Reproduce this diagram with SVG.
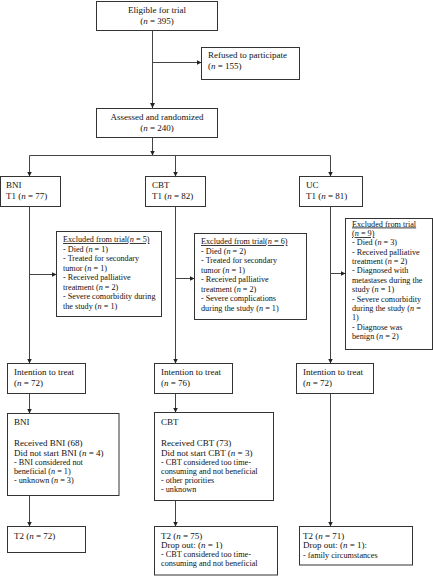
<svg xmlns="http://www.w3.org/2000/svg" width="433" height="576" viewBox="0 0 433 576">
<style>
.box{fill:#fff;stroke:#333;stroke-width:1}
.t{font-family:"Liberation Serif","Times New Roman",serif;font-size:9px;fill:#111}
.s{font-size:8.2px}
.m{text-anchor:middle}
.i{font-style:italic}
.u{text-decoration:underline}
.c{stroke:#444;stroke-width:1;fill:none}
.a{marker-end:url(#ah)}
</style>
<defs>
<marker id="ah" markerUnits="userSpaceOnUse" markerWidth="5" markerHeight="5" refX="5" refY="2.5" orient="auto">
<path d="M0,0 L5,2.5 L0,5 z" fill="#222"/>
</marker>
</defs>
<rect width="433" height="576" fill="#fff"/>
<g id="connectors">
<line class="c a" x1="152.5" y1="30.5" x2="152.5" y2="108"/>
<line class="c a" x1="152.5" y1="62.5" x2="201.5" y2="62.5"/>
<line class="c a" x1="152.5" y1="137.5" x2="152.5" y2="155.5"/>
<line class="c" x1="29.5" y1="155.5" x2="330.5" y2="155.5"/>
<line class="c a" x1="29.5" y1="155.5" x2="29.5" y2="176.5"/>
<line class="c a" x1="175.5" y1="155.5" x2="175.5" y2="176.5"/>
<line class="c a" x1="330.5" y1="155.5" x2="330.5" y2="176.5"/>
<line class="c a" x1="29.5" y1="206.5" x2="29.5" y2="363.5"/>
<line class="c a" x1="29.5" y1="274.5" x2="56.5" y2="274.5"/>
<line class="c a" x1="175.5" y1="206.5" x2="175.5" y2="363.5"/>
<line class="c a" x1="175.5" y1="278.5" x2="194.5" y2="278.5"/>
<line class="c a" x1="330.5" y1="206.5" x2="330.5" y2="363.5"/>
<line class="c a" x1="330.5" y1="273.5" x2="345.5" y2="273.5"/>
<line class="c a" x1="29.5" y1="393.5" x2="29.5" y2="413.5"/>
<line class="c a" x1="175.5" y1="393.5" x2="175.5" y2="412.5"/>
<line class="c a" x1="29.5" y1="495.5" x2="29.5" y2="526.5"/>
<line class="c a" x1="175.5" y1="500.5" x2="175.5" y2="526.5"/>
<line class="c a" x1="330.5" y1="393.5" x2="330.5" y2="526.5"/>
</g>
<g id="eligible">
<rect class="box" x="96.5" y="1.5" width="121" height="29"/>
<text class="t m" x="157" y="12.5">Eligible for trial</text>
<text class="t m" x="157" y="24">(<tspan class="i">n</tspan> = 395)</text>
</g>
<g id="refused">
<rect class="box" x="201.5" y="47.5" width="98" height="32"/>
<text class="t" x="208" y="58">Refused to participate</text>
<text class="t" x="208" y="69">(<tspan class="i">n</tspan> = 155)</text>
</g>
<g id="assessed">
<rect class="box" x="96.5" y="108.5" width="121" height="29"/>
<text class="t m" x="157" y="120">Assessed and randomized</text>
<text class="t m" x="157" y="131">(<tspan class="i">n</tspan> = 240)</text>
</g>
<g id="bni-t1">
<rect class="box" x="0.5" y="176.5" width="60" height="30"/>
<text class="t" x="6" y="188">BNI</text>
<text class="t" x="6" y="199">T1 (<tspan class="i">n</tspan> = 77)</text>
</g>
<g id="cbt-t1">
<rect class="box" x="145.5" y="176.5" width="60" height="30"/>
<text class="t" x="152" y="188">CBT</text>
<text class="t" x="152" y="199">T1 (<tspan class="i">n</tspan> = 82)</text>
</g>
<g id="uc-t1">
<rect class="box" x="299.5" y="176.5" width="63" height="30"/>
<text class="t" x="306" y="188">UC</text>
<text class="t" x="306" y="199">T1 (<tspan class="i">n</tspan> = 81)</text>
</g>
<g id="bni-excluded">
<rect class="box" x="56.5" y="231.5" width="105" height="85"/>
<text class="t s u" x="63" y="242">Excluded from trial(<tspan class="i">n</tspan> = 5)</text>
<text class="t s" x="63" y="251.5">- Died (<tspan class="i">n</tspan> = 1)</text>
<text class="t s" x="63" y="261">- Treated for secondary</text>
<text class="t s" x="63" y="270.5">tumor (<tspan class="i">n</tspan> = 1)</text>
<text class="t s" x="63" y="280">- Received palliative</text>
<text class="t s" x="63" y="289.5">treatment (<tspan class="i">n</tspan> = 2)</text>
<text class="t s" x="63" y="299">- Severe comorbidity during</text>
<text class="t s" x="63" y="308.5">the study (<tspan class="i">n</tspan> = 1)</text>
</g>
<g id="cbt-excluded">
<rect class="box" x="194.5" y="233.5" width="112" height="86"/>
<text class="t s u" x="201" y="244">Excluded from trial(<tspan class="i">n</tspan> = 6)</text>
<text class="t s" x="201" y="253.5">- Died (<tspan class="i">n</tspan> = 2)</text>
<text class="t s" x="201" y="263">- Treated for secondary</text>
<text class="t s" x="201" y="272.5">tumor (<tspan class="i">n</tspan> = 1)</text>
<text class="t s" x="201" y="282">- Received palliative</text>
<text class="t s" x="201" y="291.5">treatment (<tspan class="i">n</tspan> = 2)</text>
<text class="t s" x="201" y="301">- Severe complications</text>
<text class="t s" x="201" y="310.5">during the study (<tspan class="i">n</tspan> = 1)</text>
</g>
<g id="uc-excluded">
<rect class="box" x="345.5" y="218.5" width="87" height="131"/>
<text class="t s u" x="352" y="226.5">Excluded from trial</text>
<text class="t s u" x="352" y="236">(<tspan class="i">n</tspan> = 9)</text>
<text class="t s" x="352" y="245.3">- Died (<tspan class="i">n</tspan> = 3)</text>
<text class="t s" x="352" y="254.6">- Received palliative</text>
<text class="t s" x="352" y="264">treatment (<tspan class="i">n</tspan> = 2)</text>
<text class="t s" x="352" y="273.4">- Diagnosed with</text>
<text class="t s" x="352" y="282.8">metastases during the</text>
<text class="t s" x="352" y="292.1">study (<tspan class="i">n</tspan> = 1)</text>
<text class="t s" x="352" y="301.5">- Severe comorbidity</text>
<text class="t s" x="352" y="310.9">during the study (<tspan class="i">n</tspan> =</text>
<text class="t s" x="352" y="320.2">1)</text>
<text class="t s" x="352" y="329.6">- Diagnose was</text>
<text class="t s" x="352" y="339">benign (<tspan class="i">n</tspan> = 2)</text>
</g>
<g id="bni-itt">
<rect class="box" x="7.5" y="363.5" width="78" height="30"/>
<text class="t" x="14" y="375">Intention to treat</text>
<text class="t" x="14" y="386">(<tspan class="i">n</tspan> = 72)</text>
</g>
<g id="cbt-itt">
<rect class="box" x="154.5" y="363.5" width="78" height="30"/>
<text class="t" x="161" y="375">Intention to treat</text>
<text class="t" x="161" y="386">(<tspan class="i">n</tspan> = 76)</text>
</g>
<g id="uc-itt">
<rect class="box" x="296.5" y="363.5" width="77" height="30"/>
<text class="t" x="303" y="375">Intention to treat</text>
<text class="t" x="303" y="386">(<tspan class="i">n</tspan> = 72)</text>
</g>
<g id="bni-treatment">
<rect class="box" x="7.5" y="413.5" width="111.5" height="82"/>
<text class="t" x="14" y="425">BNI</text>
<text class="t" x="14" y="445.5">Received BNI (68)</text>
<text class="t" x="14" y="455.5">Did not start BNI (<tspan class="i">n</tspan> = 4)</text>
<text class="t s" x="14" y="465">- BNI considered not</text>
<text class="t s" x="14" y="474">beneficial (<tspan class="i">n</tspan> = 1)</text>
<text class="t s" x="14" y="483">- unknown (<tspan class="i">n</tspan> = 3)</text>
</g>
<g id="cbt-treatment">
<rect class="box" x="154.5" y="412.5" width="119" height="88"/>
<text class="t" x="161" y="425">CBT</text>
<text class="t" x="161" y="445.5">Received CBT (73)</text>
<text class="t" x="161" y="455.5">Did not start CBT (<tspan class="i">n</tspan> = 3)</text>
<text class="t s" x="161" y="465">- CBT considered too time-</text>
<text class="t s" x="161" y="474">consuming and not beneficial</text>
<text class="t s" x="161" y="483">- other priorities</text>
<text class="t s" x="161" y="492">- unknown</text>
</g>
<g id="bni-t2">
<rect class="box" x="7.5" y="526.5" width="78" height="26"/>
<text class="t" x="14" y="538.5">T2 (<tspan class="i">n</tspan> = 72)</text>
</g>
<g id="cbt-t2">
<rect class="box" x="154.5" y="526.5" width="123" height="48.5"/>
<text class="t" x="161" y="538.5">T2 (<tspan class="i">n</tspan> = 75)</text>
<text class="t" x="161" y="548">Drop out: (<tspan class="i">n</tspan> = 1)</text>
<text class="t s" x="161" y="557">- CBT considered too time-</text>
<text class="t s" x="161" y="566">consuming and not beneficial</text>
</g>
<g id="uc-t2">
<rect class="box" x="299.5" y="526.5" width="113" height="38.5"/>
<text class="t" x="303" y="538.5">T2 (<tspan class="i">n</tspan> = 71)</text>
<text class="t" x="303" y="548">Drop out: (<tspan class="i">n</tspan> = 1):</text>
<text class="t s" x="303" y="558">- family circumstances</text>
</g>
</svg>
